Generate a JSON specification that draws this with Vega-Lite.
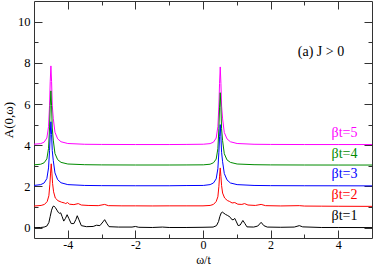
{
  "$schema": "https://vega.github.io/schema/vega-lite/v6.json",
  "width": 338,
  "height": 237,
  "autosize": "none",
  "padding": {"left": 34, "top": 1, "right": 2, "bottom": 27},
  "config": {
    "view": {"stroke": "#333", "strokeWidth": 1},
    "font": "Liberation Serif, Times New Roman, serif",
    "text": {"font": "Liberation Serif, Times New Roman, serif"},
    "axis": {"grid": false, "domain": false, "tickColor": "#333", "tickWidth": 1, "labelFont": "Liberation Serif, Times New Roman, serif", "titleFont": "Liberation Serif, Times New Roman, serif", "labelColor": "#000", "titleColor": "#000", "labelFontSize": 12.5, "titleFontSize": 13, "titleFontWeight": "normal", "labelFlush": false, "labelOverlap": false}
  },
  "datasets": {
    "curves": [
      {"s":"βt=5","w":-5,"A":4.05},{"s":"βt=5","w":-4.8,"A":4.08},{"s":"βt=5","w":-4.7,"A":4.15},{"s":"βt=5","w":-4.62,"A":4.35},{"s":"βt=5","w":-4.57,"A":4.9},{"s":"βt=5","w":-4.54,"A":5.94},{"s":"βt=5","w":-4.52,"A":7.09},{"s":"βt=5","w":-4.5,"A":7.85},{"s":"βt=5","w":-4.48,"A":7.09},{"s":"βt=5","w":-4.46,"A":5.94},{"s":"βt=5","w":-4.43,"A":5.31},{"s":"βt=5","w":-4.38,"A":4.63},{"s":"βt=5","w":-4.3,"A":4.31},{"s":"βt=5","w":-4.2,"A":4.17},{"s":"βt=5","w":-4.0,"A":4.085},{"s":"βt=5","w":-3.5,"A":4.048},{"s":"βt=5","w":-3,"A":4.04},{"s":"βt=5","w":-2,"A":4.035},{"s":"βt=5","w":-1,"A":4.035},{"s":"βt=5","w":-0.5,"A":4.04},{"s":"βt=5","w":0.01,"A":4.05},{"s":"βt=5","w":0.21,"A":4.08},{"s":"βt=5","w":0.31,"A":4.15},{"s":"βt=5","w":0.39,"A":4.35},{"s":"βt=5","w":0.44,"A":4.9},{"s":"βt=5","w":0.47,"A":5.9},{"s":"βt=5","w":0.49,"A":7.0},{"s":"βt=5","w":0.51,"A":7.8},{"s":"βt=5","w":0.53,"A":7.0},{"s":"βt=5","w":0.55,"A":5.9},{"s":"βt=5","w":0.58,"A":5.28},{"s":"βt=5","w":0.63,"A":4.62},{"s":"βt=5","w":0.71,"A":4.31},{"s":"βt=5","w":0.81,"A":4.17},{"s":"βt=5","w":1.01,"A":4.085},{"s":"βt=5","w":1.51,"A":4.048},{"s":"βt=5","w":2,"A":4.04},{"s":"βt=5","w":3,"A":4.035},{"s":"βt=5","w":4,"A":4.035},{"s":"βt=5","w":5,"A":4.035},

      {"s":"βt=4","w":-5,"A":3.05},{"s":"βt=4","w":-4.8,"A":3.08},{"s":"βt=4","w":-4.7,"A":3.15},{"s":"βt=4","w":-4.62,"A":3.34},{"s":"βt=4","w":-4.57,"A":3.85},{"s":"βt=4","w":-4.54,"A":4.84},{"s":"βt=4","w":-4.52,"A":5.92},{"s":"βt=4","w":-4.5,"A":6.64},{"s":"βt=4","w":-4.48,"A":5.92},{"s":"βt=4","w":-4.46,"A":4.84},{"s":"βt=4","w":-4.43,"A":4.25},{"s":"βt=4","w":-4.38,"A":3.6},{"s":"βt=4","w":-4.3,"A":3.3},{"s":"βt=4","w":-4.2,"A":3.17},{"s":"βt=4","w":-4.0,"A":3.09},{"s":"βt=4","w":-3.5,"A":3.057},{"s":"βt=4","w":-3,"A":3.047},{"s":"βt=4","w":-2,"A":3.042},{"s":"βt=4","w":-1,"A":3.042},{"s":"βt=4","w":-0.5,"A":3.045},{"s":"βt=4","w":0.01,"A":3.05},{"s":"βt=4","w":0.21,"A":3.08},{"s":"βt=4","w":0.31,"A":3.15},{"s":"βt=4","w":0.39,"A":3.33},{"s":"βt=4","w":0.44,"A":3.83},{"s":"βt=4","w":0.47,"A":4.8},{"s":"βt=4","w":0.49,"A":5.85},{"s":"βt=4","w":0.51,"A":6.55},{"s":"βt=4","w":0.53,"A":5.85},{"s":"βt=4","w":0.55,"A":4.8},{"s":"βt=4","w":0.58,"A":4.22},{"s":"βt=4","w":0.63,"A":3.59},{"s":"βt=4","w":0.71,"A":3.29},{"s":"βt=4","w":0.81,"A":3.17},{"s":"βt=4","w":1.01,"A":3.09},{"s":"βt=4","w":1.51,"A":3.057},{"s":"βt=4","w":2,"A":3.047},{"s":"βt=4","w":3,"A":3.042},{"s":"βt=4","w":4,"A":3.04},{"s":"βt=4","w":5,"A":3.04},

      {"s":"βt=3","w":-5,"A":2.05},{"s":"βt=3","w":-4.8,"A":2.09},{"s":"βt=3","w":-4.7,"A":2.17},{"s":"βt=3","w":-4.62,"A":2.38},{"s":"βt=3","w":-4.57,"A":2.9},{"s":"βt=3","w":-4.54,"A":3.74},{"s":"βt=3","w":-4.52,"A":4.52},{"s":"βt=3","w":-4.5,"A":5.14},{"s":"βt=3","w":-4.48,"A":4.52},{"s":"βt=3","w":-4.46,"A":3.74},{"s":"βt=3","w":-4.43,"A":3.26},{"s":"βt=3","w":-4.38,"A":2.66},{"s":"βt=3","w":-4.3,"A":2.33},{"s":"βt=3","w":-4.2,"A":2.18},{"s":"βt=3","w":-4.0,"A":2.09},{"s":"βt=3","w":-3.5,"A":2.05},{"s":"βt=3","w":-3,"A":2.04},{"s":"βt=3","w":-2,"A":2.035},{"s":"βt=3","w":-1,"A":2.035},{"s":"βt=3","w":-0.5,"A":2.045},{"s":"βt=3","w":0.01,"A":2.05},{"s":"βt=3","w":0.21,"A":2.09},{"s":"βt=3","w":0.31,"A":2.17},{"s":"βt=3","w":0.39,"A":2.37},{"s":"βt=3","w":0.44,"A":2.86},{"s":"βt=3","w":0.47,"A":3.66},{"s":"βt=3","w":0.49,"A":4.41},{"s":"βt=3","w":0.51,"A":5.0},{"s":"βt=3","w":0.53,"A":4.41},{"s":"βt=3","w":0.55,"A":3.66},{"s":"βt=3","w":0.58,"A":3.2},{"s":"βt=3","w":0.63,"A":2.63},{"s":"βt=3","w":0.71,"A":2.32},{"s":"βt=3","w":0.81,"A":2.17},{"s":"βt=3","w":1.01,"A":2.09},{"s":"βt=3","w":1.51,"A":2.05},{"s":"βt=3","w":2,"A":2.04},{"s":"βt=3","w":3,"A":2.035},{"s":"βt=3","w":4,"A":2.033},{"s":"βt=3","w":5,"A":2.03},

      {"s":"βt=2","w":-5,"A":1.05},{"s":"βt=2","w":-4.79,"A":1.08},{"s":"βt=2","w":-4.69,"A":1.13},{"s":"βt=2","w":-4.61,"A":1.27},{"s":"βt=2","w":-4.56,"A":1.55},{"s":"βt=2","w":-4.53,"A":2.11},{"s":"βt=2","w":-4.51,"A":2.65},{"s":"βt=2","w":-4.49,"A":3.1},{"s":"βt=2","w":-4.47,"A":2.65},{"s":"βt=2","w":-4.45,"A":2.14},{"s":"βt=2","w":-4.42,"A":1.74},{"s":"βt=2","w":-4.37,"A":1.44},{"s":"βt=2","w":-4.29,"A":1.31},{"s":"βt=2","w":-4.19,"A":1.24},{"s":"βt=2","w":-4.1,"A":1.2},{"s":"βt=2","w":-4.06,"A":1.17},{"s":"βt=2","w":-4.01,"A":1.22},{"s":"βt=2","w":-3.95,"A":1.14},{"s":"βt=2","w":-3.82,"A":1.12},{"s":"βt=2","w":-3.69,"A":1.17},{"s":"βt=2","w":-3.6,"A":1.1},{"s":"βt=2","w":-3.4,"A":1.08},{"s":"βt=2","w":-3.1,"A":1.07},{"s":"βt=2","w":-2.91,"A":1.13},{"s":"βt=2","w":-2.8,"A":1.07},{"s":"βt=2","w":-2.4,"A":1.06},{"s":"βt=2","w":-2,"A":1.06},{"s":"βt=2","w":-1.5,"A":1.055},{"s":"βt=2","w":-1,"A":1.06},{"s":"βt=2","w":-0.5,"A":1.06},{"s":"βt=2","w":0.0,"A":1.06},{"s":"βt=2","w":0.21,"A":1.08},{"s":"βt=2","w":0.31,"A":1.13},{"s":"βt=2","w":0.39,"A":1.27},{"s":"βt=2","w":0.44,"A":1.5},{"s":"βt=2","w":0.47,"A":2.0},{"s":"βt=2","w":0.49,"A":2.5},{"s":"βt=2","w":0.51,"A":2.9},{"s":"βt=2","w":0.53,"A":2.5},{"s":"βt=2","w":0.55,"A":2.04},{"s":"βt=2","w":0.58,"A":1.68},{"s":"βt=2","w":0.64,"A":1.44},{"s":"βt=2","w":0.72,"A":1.32},{"s":"βt=2","w":0.79,"A":1.27},{"s":"βt=2","w":0.86,"A":1.2},{"s":"βt=2","w":0.94,"A":1.22},{"s":"βt=2","w":1.03,"A":1.14},{"s":"βt=2","w":1.15,"A":1.13},{"s":"βt=2","w":1.23,"A":1.17},{"s":"βt=2","w":1.33,"A":1.1},{"s":"βt=2","w":1.55,"A":1.08},{"s":"βt=2","w":1.72,"A":1.13},{"s":"βt=2","w":1.85,"A":1.07},{"s":"βt=2","w":2.3,"A":1.055},{"s":"βt=2","w":2.85,"A":1.07},{"s":"βt=2","w":3.0,"A":1.05},{"s":"βt=2","w":3.5,"A":1.045},{"s":"βt=2","w":4,"A":1.04},{"s":"βt=2","w":5,"A":1.035},

      {"s":"βt=1","w":-5,"A":0.0},{"s":"βt=1","w":-4.8,"A":0.01},{"s":"βt=1","w":-4.7,"A":0.03},{"s":"βt=1","w":-4.62,"A":0.08},{"s":"βt=1","w":-4.56,"A":0.25},{"s":"βt=1","w":-4.52,"A":0.55},{"s":"βt=1","w":-4.48,"A":0.85},{"s":"βt=1","w":-4.44,"A":1.03},{"s":"βt=1","w":-4.41,"A":1.05},{"s":"βt=1","w":-4.37,"A":0.98},{"s":"βt=1","w":-4.32,"A":0.85},{"s":"βt=1","w":-4.28,"A":0.74},{"s":"βt=1","w":-4.25,"A":0.7},{"s":"βt=1","w":-4.21,"A":0.72},{"s":"βt=1","w":-4.17,"A":0.55},{"s":"βt=1","w":-4.12,"A":0.32},{"s":"βt=1","w":-4.07,"A":0.45},{"s":"βt=1","w":-4.02,"A":0.63},{"s":"βt=1","w":-3.97,"A":0.45},{"s":"βt=1","w":-3.9,"A":0.2},{"s":"βt=1","w":-3.82,"A":0.2},{"s":"βt=1","w":-3.76,"A":0.4},{"s":"βt=1","w":-3.72,"A":0.58},{"s":"βt=1","w":-3.67,"A":0.38},{"s":"βt=1","w":-3.6,"A":0.1},{"s":"βt=1","w":-3.45,"A":0.05},{"s":"βt=1","w":-3.25,"A":0.06},{"s":"βt=1","w":-3.15,"A":0.12},{"s":"βt=1","w":-3.05,"A":0.1},{"s":"βt=1","w":-2.96,"A":0.28},{"s":"βt=1","w":-2.91,"A":0.39},{"s":"βt=1","w":-2.85,"A":0.22},{"s":"βt=1","w":-2.78,"A":0.05},{"s":"βt=1","w":-2.5,"A":0.03},{"s":"βt=1","w":-2.1,"A":0.03},{"s":"βt=1","w":-2.0,"A":0.06},{"s":"βt=1","w":-1.9,"A":0.02},{"s":"βt=1","w":-1.5,"A":0.01},{"s":"βt=1","w":-1.2,"A":0.03},{"s":"βt=1","w":-1.0,"A":0.01},{"s":"βt=1","w":-0.5,"A":0.01},{"s":"βt=1","w":0,"A":0.02},{"s":"βt=1","w":0.3,"A":0.03},{"s":"βt=1","w":0.4,"A":0.1},{"s":"βt=1","w":0.46,"A":0.3},{"s":"βt=1","w":0.5,"A":0.55},{"s":"βt=1","w":0.54,"A":0.72},{"s":"βt=1","w":0.57,"A":0.76},{"s":"βt=1","w":0.62,"A":0.7},{"s":"βt=1","w":0.67,"A":0.64},{"s":"βt=1","w":0.72,"A":0.6},{"s":"βt=1","w":0.77,"A":0.55},{"s":"βt=1","w":0.81,"A":0.5},{"s":"βt=1","w":0.85,"A":0.4},{"s":"βt=1","w":0.89,"A":0.38},{"s":"βt=1","w":0.94,"A":0.45},{"s":"βt=1","w":0.99,"A":0.28},{"s":"βt=1","w":1.04,"A":0.1},{"s":"βt=1","w":1.1,"A":0.13},{"s":"βt=1","w":1.18,"A":0.35},{"s":"βt=1","w":1.24,"A":0.2},{"s":"βt=1","w":1.3,"A":0.04},{"s":"βt=1","w":1.5,"A":0.03},{"s":"βt=1","w":1.62,"A":0.08},{"s":"βt=1","w":1.72,"A":0.26},{"s":"βt=1","w":1.8,"A":0.1},{"s":"βt=1","w":1.9,"A":0.03},{"s":"βt=1","w":2.3,"A":0.02},{"s":"βt=1","w":2.7,"A":0.03},{"s":"βt=1","w":2.85,"A":0.1},{"s":"βt=1","w":2.95,"A":0.04},{"s":"βt=1","w":3.5,"A":0.01},{"s":"βt=1","w":4,"A":0.01},{"s":"βt=1","w":5,"A":0.005}
    ],
    "labels": [
      {"s":"βt=5","w":4.57,"A":4.58,"t":"βt=5"},
      {"s":"βt=4","w":4.57,"A":3.57,"t":"βt=4"},
      {"s":"βt=3","w":4.57,"A":2.61,"t":"βt=3"},
      {"s":"βt=2","w":4.57,"A":1.6,"t":"βt=2"},
      {"s":"βt=1","w":4.57,"A":0.58,"t":"βt=1"}
    ],
    "note": [
      {"w":3.49,"A":8.53,"t":"(a) J > 0"}
    ]
  },
  "layer": [
    {
      "data": {"name": "curves"},
      "mark": {"type": "line", "strokeWidth": 1},
      "encoding": {
        "x": {"field": "w", "type": "quantitative", "scale": {"domain": [-5, 5], "nice": false, "zero": false},
              "axis": {"orient": "bottom", "values": [-4,-3,-2,-1,0,1,2,3,4], "tickSize": {"condition": {"test": "datum.value % 2 === 0", "value": -8}, "value": -4}, "labelExpr": "datum.value % 2 === 0 ? toString(datum.value) : ''", "labelPadding": 9, "labelFontSize": 12, "title": "ω/t", "titleFontSize": 12, "titleY": 25, "titleBaseline": "alphabetic"}},
        "y": {"field": "A", "type": "quantitative", "scale": {"domain": [-0.5, 11], "nice": false, "zero": false},
              "axis": {"orient": "left", "values": [0,1,2,3,4,5,6,7,8,9,10], "tickSize": {"condition": {"test": "datum.value % 2 === 0", "value": -8}, "value": -4}, "labelExpr": "datum.value % 2 === 0 ? toString(datum.value) : ''", "labelPadding": 12, "title": "A(0,ω)", "titleX": -26, "titleBaseline": "middle"}},
        "color": {"field": "s", "type": "nominal", "scale": {"domain": ["βt=1","βt=2","βt=3","βt=4","βt=5"], "range": ["#000000","#ff0000","#0000ff","#008b00","#ff00ff"]}, "legend": null}
      }
    },
    {
      "data": {"name": "labels"},
      "mark": {"type": "text", "align": "right", "baseline": "middle", "fontSize": 14, "font": "Liberation Serif, Times New Roman, serif"},
      "encoding": {
        "x": {"field": "w", "type": "quantitative", "axis": {"orient": "top", "values": [-4,-3,-2,-1,0,1,2,3,4], "tickSize": {"condition": {"test": "datum.value % 2 === 0", "value": -8}, "value": -4}, "labels": false, "title": null}},
        "y": {"field": "A", "type": "quantitative", "axis": {"orient": "right", "values": [0,1,2,3,4,5,6,7,8,9,10], "tickSize": {"condition": {"test": "datum.value % 2 === 0", "value": -8}, "value": -4}, "labels": false, "title": null}},
        "text": {"field": "t"},
        "color": {"field": "s", "type": "nominal", "legend": null}
      }
    },
    {
      "data": {"name": "note"},
      "mark": {"type": "text", "align": "center", "baseline": "middle", "fontSize": 14, "font": "Liberation Serif, Times New Roman, serif", "color": "#000"},
      "encoding": {
        "x": {"field": "w", "type": "quantitative", "axis": null},
        "y": {"field": "A", "type": "quantitative", "axis": null},
        "text": {"field": "t"}
      }
    }
  ],
  "resolve": {"axis": {"x": "independent", "y": "independent"}}
}
